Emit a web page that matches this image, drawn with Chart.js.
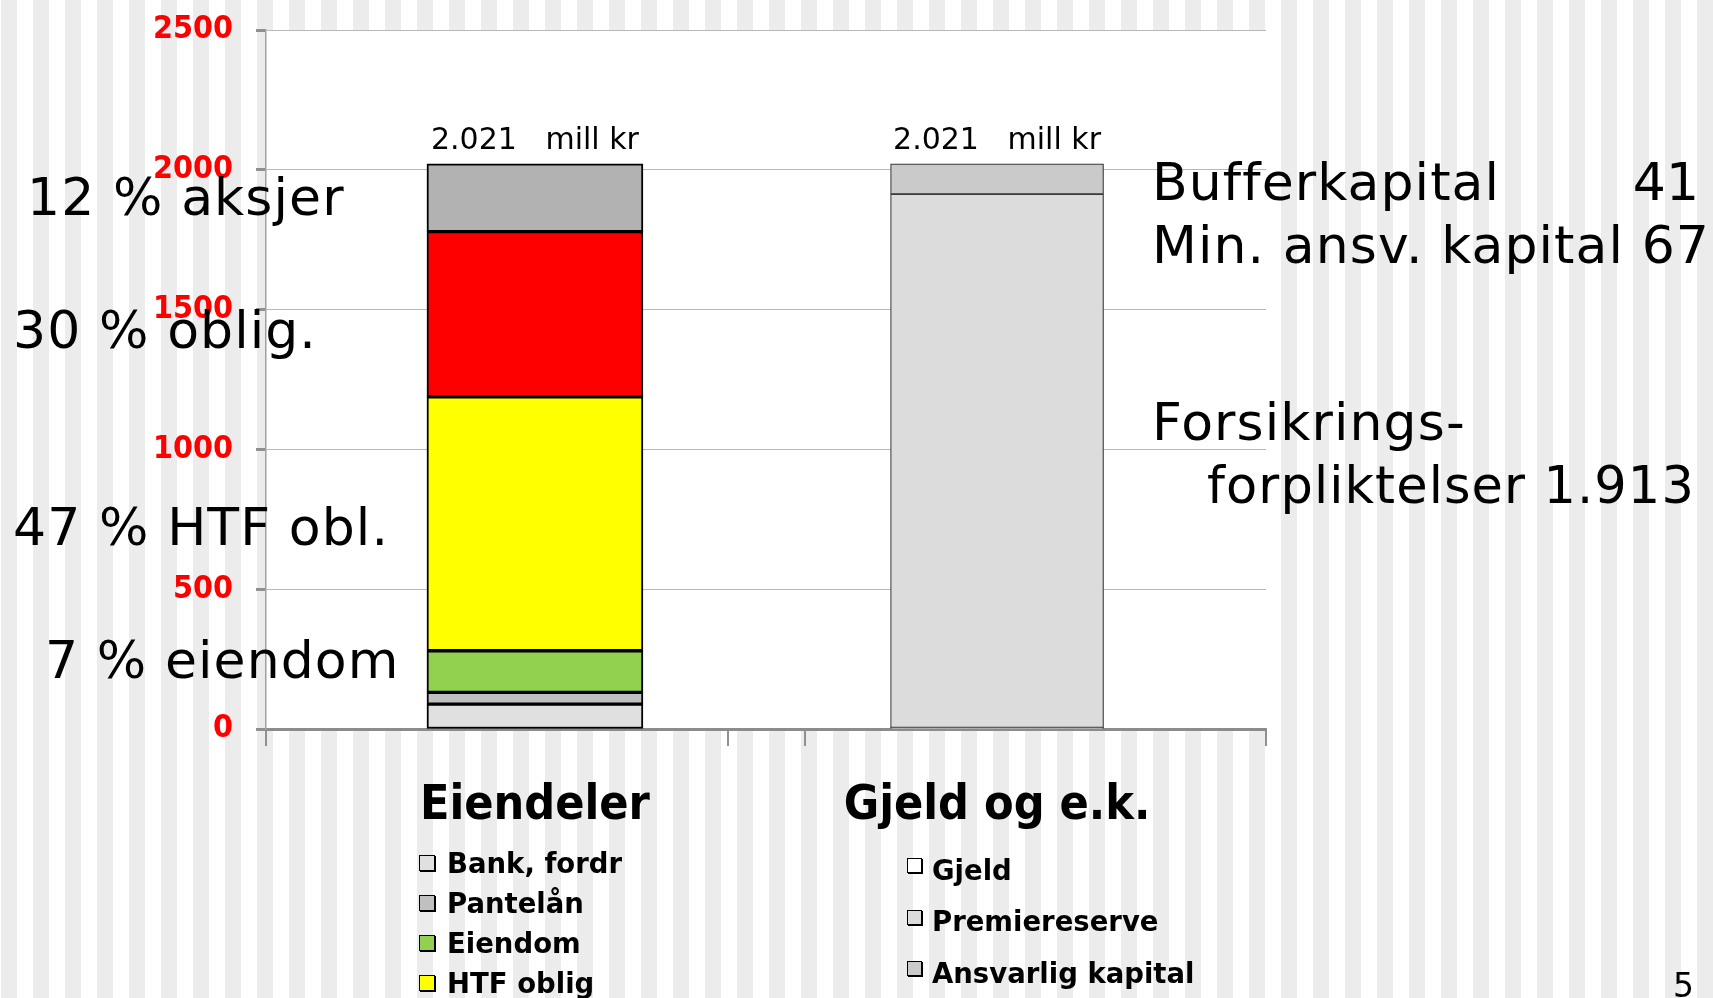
<!DOCTYPE html>
<html>
<head>
<meta charset="utf-8">
<title>Balanse</title>
<script src="https://cdn.jsdelivr.net/npm/chart.js@4.4.1/dist/chart.umd.min.js"></script>
<style>
  html, body { margin: 0; padding: 0; }
  body {
    width: 1713px; height: 998px; overflow: hidden; position: relative;
    background: repeating-linear-gradient(to right, #fff 0px, #fff 1px, #ececec 1px, #ececec 17px, #fff 17px, #fff 32px);
    font-family: "DejaVu Sans", sans-serif;
  }
  #chart { position: absolute; left: 0; top: 0; }
  .note { position: absolute; white-space: pre; line-height: 1; color: #000; letter-spacing: 1.1px; }
  .legend-text { position: absolute; white-space: pre; line-height: 1; font-weight: bold; color: #000; }
  .legend-box { position: absolute; box-sizing: border-box; border: 1.5px solid #000; box-shadow: 1px 1px 0 #000; }
</style>
</head>
<body>
<canvas id="chart" width="1713" height="998"></canvas>
<script>
// categories (one stacked bar each)
const categories = ['Eiendeler', 'Gjeld og e.k.'];

// Eiendeler, bottom to top (mill kr)
const assetNames  = ['Bank, fordr', 'Pantelån', 'Eiendom', 'HTF oblig', 'Obligasjoner', 'Aksjer'];
const assetValues = [89, 42, 149, 908, 591, 242];
const assetColors = ['#e0e0e0', '#c0c0c0', '#92d050', '#ffff00', '#ff0000', '#b2b2b2'];

// Gjeld og e.k., bottom to top (mill kr)
const liabNames  = ['Gjeld', 'Premiereserve', 'Ansvarlig kapital'];
const liabValues = [5, 1908, 108];
const liabColors = ['#ffffff', '#dcdcdc', '#cacaca'];

const yTicks = [0, 500, 1000, 1500, 2000, 2500];

Chart.defaults.font.family = 'DejaVu Sans';

const datasets = [];
assetNames.forEach((name, i) => {
  datasets.push({
    label: name,
    data: [{ x: 0, y: assetValues[i] }],
    backgroundColor: assetColors[i],
    borderColor: '#000',
    borderWidth: 2,
    borderSkipped: false,
    barThickness: 216
  });
});
liabNames.forEach((name, i) => {
  datasets.push({
    label: name,
    data: [{ x: 1, y: liabValues[i] }],
    backgroundColor: liabColors[i],
    borderColor: '#3a3a3a',
    borderWidth: 1.2,
    borderSkipped: false,
    barThickness: 213
  });
});

const fmt = n => String(n).replace(/\B(?=(\d{3})+(?!\d))/g, '.');

// white plot area on the striped slide
const plotBackground = {
  id: 'plotBackground',
  beforeDraw(chart) {
    const a = chart.chartArea, ctx = chart.ctx;
    ctx.save();
    ctx.fillStyle = '#fff';
    ctx.fillRect(a.left, a.top, a.right - a.left, a.bottom - a.top);
    ctx.restore();
  }
};

// total above each stack
const totals = {
  id: 'totals',
  afterDatasetsDraw(chart) {
    const ctx = chart.ctx, xs = chart.scales.x, ys = chart.scales.y;
    ctx.save();
    ctx.font = '30px "DejaVu Sans"';
    ctx.fillStyle = '#000';
    ctx.textAlign = 'center';
    ctx.textBaseline = 'alphabetic';
    categories.forEach((c, i) => {
      let sum = 0;
      chart.data.datasets.forEach(ds => ds.data.forEach(p => { if (p.x === i) sum += p.y; }));
      ctx.fillText(fmt(sum) + '   mill kr', xs.getPixelForValue(i), ys.getPixelForValue(sum) - 15);
    });
    ctx.restore();
  }
};

const chart = new Chart(document.getElementById('chart'), {
  type: 'bar',
  data: { datasets },
  plugins: [plotBackground, totals],
  options: {
    responsive: false,
    animation: false,
    layout: { padding: { left: 0, top: 30, right: 447, bottom: 0 } },
    plugins: { legend: { display: false }, tooltip: { enabled: false } },
    scales: {
      x: {
        type: 'linear',
        stacked: true,
        offset: false,
        min: -0.582,
        max: 1.582,
        afterFit: s => { s.height = 269; s.paddingLeft = 0; s.paddingRight = 0; },
        afterBuildTicks: s => {
          s.ticks = [-0.582, 0, 0.418, 0.584, 1, 1.582].map(v => ({ value: v }));
        },
        grid: {
          offset: false,
          drawOnChartArea: false,
          tickLength: 17,
          lineWidth: 2,
          color: ctx => (ctx.tick && Number.isInteger(ctx.tick.value)) ? 'rgba(0,0,0,0)' : '#909090'
        },
        border: { color: '#8c8c8c', width: 3 },
        ticks: {
          autoSkip: false,
          maxRotation: 0,
          padding: 32,
          color: '#000',
          font: { family: 'DejaVu Sans Condensed', size: 48, weight: 'bold' },
          callback: v => Number.isInteger(v) ? categories[v] : ''
        }
      },
      y: {
        stacked: true,
        min: 0,
        max: 2500,
        afterFit: s => { s.width = 266; s.paddingTop = 0; s.paddingBottom = 0; },
        afterBuildTicks: s => { s.ticks = yTicks.map(v => ({ value: v })); },
        grid: { color: '#b8b8b8', lineWidth: 1, tickLength: 10, tickColor: '#909090', tickWidth: 3 },
        border: { color: '#a0a0a0', width: 1.5 },
        ticks: {
          padding: 23,
          color: '#ff0000',
          font: { family: 'DejaVu Sans Condensed', size: 32, weight: 'bold' },
          callback: v => String(v)
        }
      }
    }
  }
});

// slide annotations, placed by left x and text baseline
function note(text, x, baseline, size, rightEdge) {
  const d = document.createElement('div');
  d.className = 'note';
  d.textContent = text;
  d.style.fontSize = size + 'px';
  d.style.top = (baseline - 0.846 * size) + 'px';
  if (rightEdge) { d.style.right = (1713 - x) + 'px'; d.style.letterSpacing = '0'; }
  else d.style.left = x + 'px';
  document.body.appendChild(d);
}
note('12 % aksjer', 27, 215, 52);
note('30 % oblig.', 13, 348, 52);
note('47 % HTF obl.', 13, 545, 52);
note('7 % eiendom', 45, 678, 52);
note('Bufferkapital', 1152, 200, 52);
note('41', 1699, 200, 52, true);
note('Min. ansv. kapital 67', 1152, 263, 52);
note('Forsikrings-', 1152, 440, 52);
note('forpliktelser 1.913', 1207, 503, 51);
note('5', 1673, 997, 33);

// html legends, one column under each bar
const legendLayout = [
  { boxX: 419, textX: 447, baseline: 873, step: 40, box: 16, boxOffset: -18 },
  { boxX: 907, textX: 932, baseline: 880, step: 51.5, box: 15, boxOffset: -22 }
];
const fs = 27.5;
const counters = [0, 0];
chart.data.datasets.forEach(ds => {
  const g = ds.data[0].x;
  const L = legendLayout[g];
  const base = L.baseline + counters[g]++ * L.step;
  const b = document.createElement('div');
  b.className = 'legend-box';
  b.style.left = L.boxX + 'px';
  b.style.top = (base + L.boxOffset) + 'px';
  b.style.width = L.box + 'px';
  b.style.height = L.box + 'px';
  b.style.background = ds.backgroundColor;
  document.body.appendChild(b);
  const t = document.createElement('div');
  t.className = 'legend-text';
  t.textContent = ds.label;
  t.style.fontSize = fs + 'px';
  t.style.left = L.textX + 'px';
  t.style.top = (base - 0.846 * fs) + 'px';
  document.body.appendChild(t);
});
</script>
</body>
</html>
